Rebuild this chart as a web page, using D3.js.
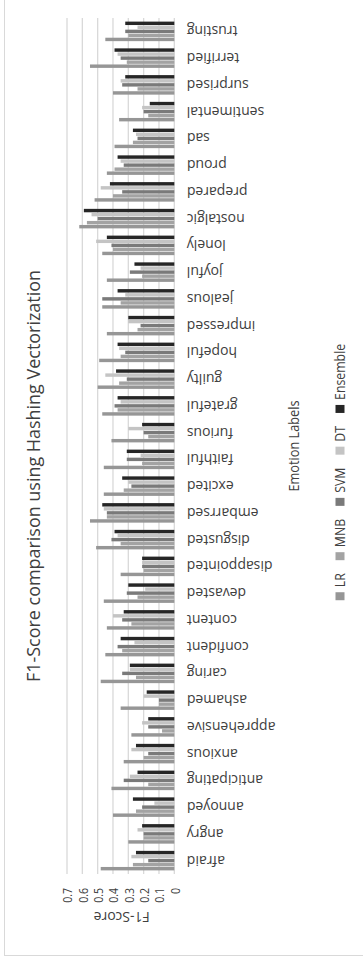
<!DOCTYPE html>
<html>
<head>
<meta charset="utf-8">
<script src="https://cdn.jsdelivr.net/npm/d3@7"></script>
<style>
  html, body { margin: 0; padding: 0; background: #ffffff; }
  svg { display: block; }
  text { font-family: "Open Sans", "Noto Sans", sans-serif; fill: #404040; }
</style>
</head>
<body>
<svg id="chart" width="363" height="961"></svg>
<script>
// Emotion labels on the category axis
const categories = ["afraid","angry","annoyed","anticipating","anxious","apprehensive","ashamed","caring",
  "confident","content","devasted","disappointed","disgusted","embarrsed","excited","faithful","furious",
  "grateful","guilty","hopeful","impressed","jealous","joyful","lonely","nostalgic","prepared","proud",
  "sad","sentimental","surprised","terrified","trusting"];

// F1-scores per classifier, in category order
const lrScores       = [0.48,0.30,0.40,0.41,0.33,0.28,0.35,0.48,0.45,0.44,0.46,0.35,0.51,0.55,0.46,0.46,0.41,0.47,0.50,0.49,0.44,0.47,0.44,0.47,0.62,0.52,0.44,0.39,0.36,0.40,0.55,0.45];
const mnbScores      = [0.27,0.20,0.25,0.17,0.20,0.08,0.10,0.25,0.34,0.28,0.24,0.20,0.35,0.44,0.33,0.21,0.17,0.37,0.36,0.35,0.24,0.35,0.21,0.40,0.57,0.40,0.39,0.27,0.17,0.24,0.31,0.30];
const svmScores      = [0.17,0.20,0.21,0.33,0.17,0.17,0.10,0.34,0.37,0.34,0.31,0.21,0.41,0.44,0.28,0.31,0.20,0.39,0.31,0.32,0.22,0.47,0.29,0.41,0.50,0.34,0.33,0.24,0.20,0.34,0.35,0.32];
const dtScores       = [0.28,0.24,0.13,0.29,0.28,0.21,0.20,0.29,0.26,0.40,0.19,0.21,0.37,0.46,0.30,0.22,0.30,0.35,0.45,0.36,0.30,0.32,0.22,0.51,0.54,0.48,0.35,0.25,0.21,0.35,0.37,0.24];
const ensembleScores = [0.25,0.21,0.27,0.24,0.25,0.17,0.18,0.29,0.35,0.33,0.30,0.21,0.39,0.47,0.34,0.31,0.21,0.37,0.38,0.37,0.30,0.37,0.26,0.44,0.59,0.42,0.37,0.27,0.16,0.32,0.39,0.32];

const seriesNames  = ["LR","MNB","SVM","DT","Ensemble"];
const seriesValues = [lrScores, mnbScores, svmScores, dtScores, ensembleScores];
const seriesColors = ["#969696","#a3a3a3","#7a7a7a","#c4c4c4","#262626"];

const valueTicks = [0,0.1,0.2,0.3,0.4,0.5,0.6,0.7];

// The chart is laid out as a normal column chart (961 wide, 363 tall)
// and then turned a quarter turn counter-clockwise onto the page.
const W = 961, H = 363;
const svg = d3.select("#chart");
svg.append("rect").attr("width", 363).attr("height", 961).attr("fill", "#fff");

const g = svg.append("g").attr("transform", `translate(0,${W}) rotate(-90)`);

// chart-area border
g.append("rect")
  .attr("x", 5.5).attr("y", 4.5).attr("width", 975).attr("height", 375)
  .attr("fill", "none").attr("stroke", "#d9d9d9").attr("stroke-width", 1);

const plotLeft = 87, plotRight = 943;
const x0 = d3.scaleBand().domain(categories).range([plotLeft, plotRight])
  .paddingInner(0.27).paddingOuter(0.135);
const x1 = d3.scaleBand().domain(seriesNames).range([0, x0.bandwidth()]).paddingInner(0.15);
const y = d3.scaleLinear().domain([0, 0.7]).range([174.3, 67.0]);

const condense = 0.88;

// gridlines
g.append("g").selectAll("line").data(valueTicks).join("line")
  .attr("x1", plotLeft).attr("x2", plotRight)
  .attr("y1", d => y(d)).attr("y2", d => y(d))
  .attr("stroke", "#d9d9d9").attr("stroke-width", 1.3);

// bars
const groups = g.append("g").selectAll("g").data(categories).join("g")
  .attr("transform", c => `translate(${x0(c)},0)`);
groups.selectAll("rect")
  .data((c, i) => seriesNames.map((s, k) => ({ s, k, v: seriesValues[k][i] })))
  .join("rect")
  .attr("x", d => x1(d.s))
  .attr("width", x1.bandwidth())
  .attr("y", d => y(d.v))
  .attr("height", d => y(0) - y(d.v))
  .attr("fill", d => seriesColors[d.k]);

// value axis
const yAxis = g.append("g").attr("transform", `translate(${plotLeft},0)`)
  .call(d3.axisLeft(y).tickValues(valueTicks).tickSize(0).tickFormat(d => d === 0 ? "0" : d3.format(".1f")(d)));
yAxis.select(".domain").remove();
yAxis.selectAll("text")
  .attr("x", null).attr("dy", null)
  .attr("dominant-baseline", "central")
  .attr("transform", `translate(-14,0) scale(${condense},1)`)
  .attr("text-anchor", "end")
  .style("font-family", "'Open Sans', sans-serif")
  .style("font-size", "12px").style("fill", "#404040");

// category axis
const xAxis = g.append("g").attr("transform", `translate(0,${y(0)})`)
  .call(d3.axisBottom(x0).tickSize(0));
xAxis.select(".domain").remove();
xAxis.selectAll("text")
  .attr("y", 0).attr("x", -12.5).attr("dy", "0.35em")
  .attr("transform", "rotate(-90)")
  .attr("text-anchor", "end")
  .style("font-family", "'Open Sans', sans-serif")
  .style("font-size", "14px").style("fill", "#404040");

// title
g.append("text")
  .attr("transform", "translate(485,33) scale(0.97,1)")
  .attr("text-anchor", "middle").attr("dominant-baseline", "central")
  .style("font-size", "18.5px")
  .text("F1-Score comparison using Hashing Vectorization");

// value axis title
g.append("text")
  .attr("transform", "translate(44,121.7) rotate(-90)")
  .attr("text-anchor", "middle").attr("dominant-baseline", "central")
  .style("font-size", "14px")
  .text("F1-Score");

// category axis title
g.append("text")
  .attr("transform", `translate(515,293.5) scale(${condense},1)`)
  .attr("text-anchor", "middle").attr("dominant-baseline", "central")
  .style("font-size", "14.5px")
  .text("Emotion Labels");

// legend
const legend = g.append("g").attr("transform", "translate(0,340)");
const fs = 14, marker = 8, markerGap = 5, itemGap = 13;
const measure = legend.append("text").style("font-size", fs + "px");
const widths = seriesNames.map(n => { measure.text(n); return measure.node().getComputedTextLength() * condense; });
measure.remove();
const total = d3.sum(widths) + seriesNames.length * (marker + markerGap) + (seriesNames.length - 1) * itemGap;
let cx = 489 - total / 2;
seriesNames.forEach((n, k) => {
  legend.append("rect").attr("x", cx).attr("y", -4.5).attr("width", marker).attr("height", 9)
    .attr("fill", seriesColors[k]);
  cx += marker + markerGap;
  legend.append("text")
    .attr("transform", `translate(${cx},0) scale(${condense},1)`)
    .attr("dominant-baseline", "central")
    .style("font-size", fs + "px").text(n);
  cx += widths[k] + itemGap;
});
</script>
</body>
</html>
